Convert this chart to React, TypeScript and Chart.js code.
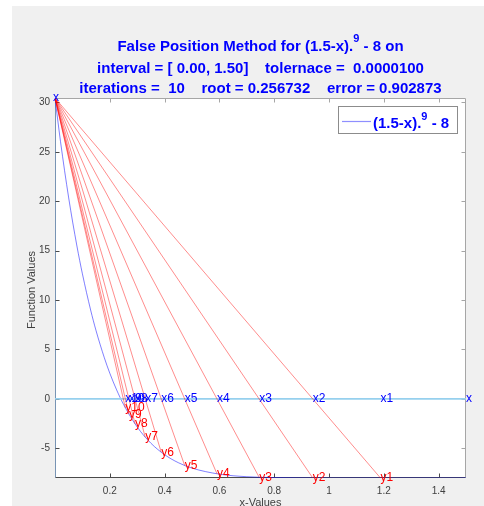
import React, { useEffect, useRef } from 'react';
import { Chart, registerables } from 'chart.js';

Chart.register(...registerables);

// ---- data ----
const intervalA = 0;
const intervalB = 1.5;
const fA = 30.4434;
const fB = -8;
const iterX = [1.18785, 0.940661, 0.745015, 0.591206, 0.473383, 0.387647, 0.329314, 0.292173, 0.269763, 0.256732];
const iterY = [-7.99997, -7.99464, -7.92031, -7.57714, -6.73329, -5.39266, -3.86983, -2.52903, -1.54522, -0.90323];
const curveX = [0, 0.02, 0.05, 0.08, 0.1, 0.13, 0.15, 0.18, 0.2, 0.225, 0.25, 0.3, 0.35, 0.4, 0.45, 0.5, 0.6, 0.7, 0.8, 0.9, 1.0, 1.2, 1.5];
const curveY = [30.44, 26.06, 20.33, 15.47, 12.66, 9.0, 6.89, 4.17, 2.6, 0.91, -0.55, -2.84, -4.48, -5.64, -6.45, -7.0, -7.61, -7.87, -7.96, -7.99, -8.0, -8.0, -8.0];
const titleLine1 = ['False Position Method for (1.5-x).', '9', ' - 8 on'];
const titleLine2 = 'interval = [ 0.00, 1.50]    tolernace =  0.0000100';
const titleLine3 = 'iterations =  10    root = 0.256732    error = 0.902873';
const legendLabel = ['(1.5-x).', '9', ' - 8'];
const xLabel = 'x-Values';
const yLabel = 'Function Values';

const FONT = '"Liberation Sans", Arial, Helvetica, sans-serif';

function drawSup(ctx: CanvasRenderingContext2D, parts: string[], cx: number, baseY: number, size: number, supSize: number, supRise: number, align: 'center' | 'left') {
  ctx.font = `bold ${size}px ${FONT}`;
  const w0 = ctx.measureText(parts[0]).width;
  const w2 = ctx.measureText(parts[2]).width;
  ctx.font = `bold ${supSize}px ${FONT}`;
  const w1 = ctx.measureText(parts[1]).width;
  const total = w0 + w1 + w2;
  let x = align === 'center' ? cx - total / 2 : cx;
  ctx.textAlign = 'left';
  ctx.textBaseline = 'alphabetic';
  ctx.font = `bold ${size}px ${FONT}`;
  ctx.fillText(parts[0], x, baseY);
  x += w0;
  ctx.font = `bold ${supSize}px ${FONT}`;
  ctx.fillText(parts[1], x, baseY - supRise);
  x += w1;
  ctx.font = `bold ${size}px ${FONT}`;
  ctx.fillText(parts[2], x, baseY);
}

const deco = {
  id: 'deco',
  beforeDraw(chart: any) {
    const { ctx, chartArea: a } = chart;
    ctx.save();
    ctx.fillStyle = '#ffffff';
    ctx.fillRect(a.left, a.top, a.right - a.left, a.bottom - a.top);
    ctx.restore();
  },
  beforeDatasetsDraw(chart: any) {
    const { ctx, chartArea: a, scales } = chart;
    const L = Math.round(a.left) + 0.5;
    const R = Math.round(a.right) - 0.5;
    const T = Math.round(a.top) + 0.5;
    const B = Math.round(a.bottom) - 0.5;
    ctx.save();
    ctx.lineWidth = 1;
    ctx.strokeStyle = '#a6a6a6';
    ctx.beginPath();
    ctx.moveTo(L, T); ctx.lineTo(R, T); ctx.lineTo(R, B);
    ctx.stroke();
    scales.x.ticks.forEach((t: any) => {
      const px = Math.round(scales.x.getPixelForValue(t.value)) + 0.5;
      ctx.beginPath(); ctx.moveTo(px, T); ctx.lineTo(px, T + 4); ctx.stroke();
    });
    scales.y.ticks.forEach((t: any) => {
      const py = Math.round(scales.y.getPixelForValue(t.value)) + 0.5;
      ctx.beginPath(); ctx.moveTo(R, py); ctx.lineTo(R - 4, py); ctx.stroke();
    });
    ctx.strokeStyle = '#4a4a4a';
    ctx.beginPath(); ctx.moveTo(L, B); ctx.lineTo(R, B); ctx.stroke();
    scales.x.ticks.forEach((t: any) => {
      const px = Math.round(scales.x.getPixelForValue(t.value)) + 0.5;
      ctx.beginPath(); ctx.moveTo(px, B); ctx.lineTo(px, B - 4); ctx.stroke();
    });
    ctx.strokeStyle = '#7894b4';
    ctx.beginPath(); ctx.moveTo(L, T); ctx.lineTo(L, B); ctx.stroke();
    ctx.strokeStyle = '#4a4a4a';
    scales.y.ticks.forEach((t: any) => {
      const py = Math.round(scales.y.getPixelForValue(t.value)) + 0.5;
      ctx.beginPath(); ctx.moveTo(L, py); ctx.lineTo(L + 4, py); ctx.stroke();
    });
    ctx.restore();
  },
  afterDatasetsDraw(chart: any) {
    const { ctx, chartArea: a, scales } = chart;
    const sx = scales.x, sy = scales.y;
    ctx.save();
    ctx.textAlign = 'left';
    ctx.textBaseline = 'middle';
    ctx.font = `12px ${FONT}`;
    ctx.fillStyle = '#0000ff';
    iterX.forEach((x, i) => {
      ctx.fillText('x' + (i + 1), sx.getPixelForValue(x), sy.getPixelForValue(0));
    });
    ctx.fillText('x', sx.getPixelForValue(intervalA) - 2, sy.getPixelForValue(fA));
    ctx.fillText('x', sx.getPixelForValue(intervalB), sy.getPixelForValue(0));
    ctx.fillStyle = '#ff0000';
    iterX.forEach((x, i) => {
      ctx.fillText('y' + (i + 1), sx.getPixelForValue(x), sy.getPixelForValue(iterY[i]));
    });
    // legend
    const bx = 326, by = 100, bw = 120, bh = 28;
    ctx.fillStyle = '#ffffff';
    ctx.fillRect(bx, by, bw, bh);
    ctx.strokeStyle = '#8c8c8c';
    ctx.lineWidth = 1;
    ctx.strokeRect(bx + 0.5, by + 0.5, bw - 1, bh - 1);
    ctx.strokeStyle = '#8f8fff';
    ctx.lineWidth = 1.2;
    ctx.beginPath(); ctx.moveTo(bx + 4, by + 15.5); ctx.lineTo(bx + 33, by + 15.5); ctx.stroke();
    ctx.fillStyle = '#0000ff';
    drawSup(ctx, legendLabel, bx + 35, by + 22, 15, 11, 8, 'left');
    // title
    const cx = (a.left + a.right) / 2;
    ctx.fillStyle = '#0000ff';
    drawSup(ctx, titleLine1, cx, 45, 15, 11, 9, 'center');
    ctx.font = `bold 15px ${FONT}`;
    ctx.textAlign = 'center';
    ctx.textBaseline = 'alphabetic';
    ctx.fillText(titleLine2, cx, 66.5);
    ctx.fillText(titleLine3, cx, 87);
    // axis titles
    ctx.fillStyle = '#404040';
    ctx.font = `11px ${FONT}`;
    ctx.textBaseline = 'middle';
    ctx.fillText(xLabel, cx, 497);
    ctx.save();
    ctx.translate(20, 284);
    ctx.rotate(-Math.PI / 2);
    ctx.fillText(yLabel, 0, 0);
    ctx.restore();
    ctx.restore();
  },
};

export default function App() {
  const ref = useRef<HTMLCanvasElement>(null);
  useEffect(() => {
    if (!ref.current) return;
    const curve = curveX.map((x, i) => ({ x, y: curveY[i] }));
    const redSets = iterX.map((x, i) => ({
      type: 'line' as const,
      data: [{ x: intervalA, y: fA }, { x, y: iterY[i] }],
      borderColor: 'rgba(255,0,0,0.45)',
      borderWidth: 1,
      pointRadius: 0,
      showLine: true,
    }));
    const chart = new Chart(ref.current, {
      type: 'scatter',
      data: {
        datasets: [
          ...redSets,
          {
            data: [{ x: intervalA, y: 0 }, { x: intervalB, y: 0 }],
            borderColor: 'rgb(150,208,238)',
            borderWidth: 1.6,
            pointRadius: 0,
            showLine: true,
          },
          {
            data: curve,
            borderColor: 'rgba(0,0,255,0.5)',
            borderWidth: 1,
            pointRadius: 0,
            showLine: true,
            cubicInterpolationMode: 'monotone',
          },
        ] as any,
      },
      options: {
        responsive: false,
        animation: false,
        events: [],
        layout: { padding: { left: 0, top: 92, right: 18, bottom: 0 } },
        plugins: { legend: { display: false }, tooltip: { enabled: false }, title: { display: false } },
        scales: {
          x: {
            type: 'linear',
            min: 0,
            max: 1.5,
            grid: { display: false, drawTicks: false },
            border: { display: false },
            afterFit: (s: any) => { s.height = 28; },
            ticks: {
              stepSize: 0.2,
              includeBounds: false,
              autoSkip: false,
              maxRotation: 0,
              padding: 7,
              color: '#404040',
              font: { size: 10, family: FONT },
              callback: (v: any) => (Math.abs(v) < 1e-9 ? '' : String(Number(Number(v).toFixed(1)))),
            },
          },
          y: {
            type: 'linear',
            min: fB,
            max: fA,
            grid: { display: false, drawTicks: false },
            border: { display: false },
            afterFit: (s: any) => { s.width = 43; },
            ticks: {
              stepSize: 5,
              includeBounds: false,
              autoSkip: false,
              padding: 5,
              color: '#404040',
              font: { size: 10, family: FONT },
              callback: (v: any) => String(Math.round(v)),
            },
          },
        },
      },
      plugins: [deco],
    });
    return () => chart.destroy();
  }, []);
  return (
    <div style={{ position: 'absolute', left: 0, top: 0, width: 484, height: 506, background: '#ffffff', overflow: 'hidden' }}>
      <div style={{ position: 'absolute', left: 12, top: 6, width: 472, height: 500, background: '#f0f0f0' }}>
        <canvas ref={ref} width={472} height={500} style={{ display: 'block' }} />
      </div>
    </div>
  );
}
